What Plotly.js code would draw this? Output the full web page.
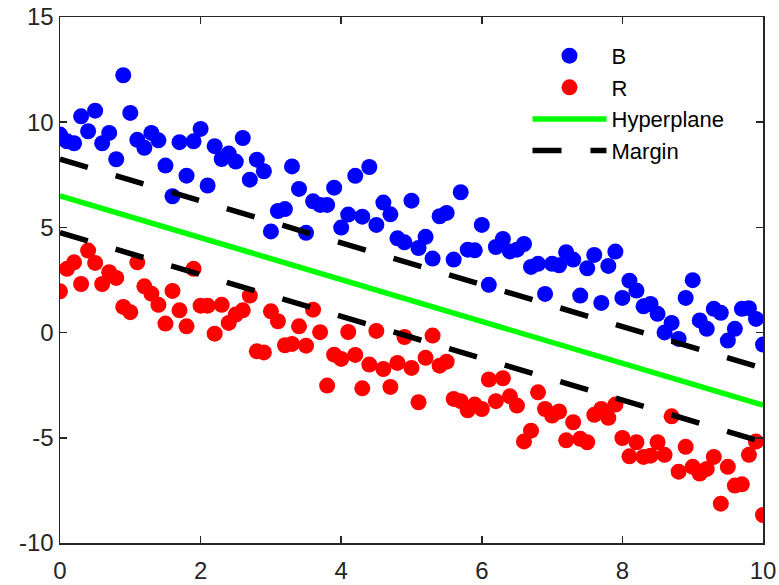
<!DOCTYPE html>
<html>
<head>
<meta charset="utf-8">
<script src="https://cdn.plot.ly/plotly-3.0.1.min.js"></script>
<style>html,body{margin:0;padding:0;background:#fff;}#chart{width:779px;height:585px;}</style>
</head>
<body>
<div id="chart"></div>
<script>
// x positions shared by both classes
var xVals = [];
for (var i = 0; i <= 100; i++) xVals.push(+(i / 10).toFixed(1));

var blueY = [9.41,9.09,9.0,10.28,9.57,10.55,9.0,9.49,8.24,12.23,
             10.44,9.16,8.78,9.49,9.14,7.94,6.48,9.05,7.46,9.09,
             9.68,6.99,8.86,8.25,8.51,8.13,9.25,7.27,8.22,7.67,
             4.81,5.78,5.87,7.9,6.83,4.74,6.24,6.07,6.07,6.89,
             4.99,5.61,7.45,5.51,7.87,5.12,6.18,5.62,4.48,4.29,
             6.27,4.02,4.55,3.52,5.53,5.69,3.47,6.67,3.94,3.91,
             5.12,2.27,4.07,4.45,3.86,3.94,4.21,3.12,3.27,1.84,
             3.27,3.20,3.82,3.47,1.76,3.06,3.69,1.41,3.17,3.85,
             1.65,2.47,2.0,1.25,1.36,0.89,0.01,0.46,-0.30,1.65,
             2.49,0.58,0.18,1.13,0.94,-0.38,0.18,1.13,1.16,0.65,
             -0.57];

var redY = [1.96,3.03,3.34,2.31,3.90,3.31,2.31,2.87,2.60,1.22,
            0.97,3.34,2.20,1.85,1.32,0.43,1.98,1.06,0.30,3.03,
            1.28,1.28,-0.05,1.32,0.46,0.86,1.06,1.76,-0.89,-0.94,
            1.01,0.54,-0.60,-0.54,0.30,-0.62,1.09,0.02,-2.52,-1.05,
            -1.25,0.03,-1.06,-2.65,-1.52,0.08,-1.73,-2.58,-1.44,-0.21,
            -1.68,-3.31,-1.20,-0.14,-1.57,-1.38,-3.15,-3.26,-3.69,-3.42,
            -3.63,-2.23,-3.26,-2.17,-3.03,-3.47,-5.17,-4.66,-2.84,-3.63,
            -3.94,-3.75,-5.12,-4.26,-5.05,-5.21,-3.91,-3.63,-4.05,-3.42,
            -5.01,-5.88,-5.21,-5.91,-5.85,-5.21,-5.81,-3.98,-6.61,-5.43,
            -6.38,-6.70,-6.48,-5.91,-8.13,-6.38,-7.27,-7.21,-5.81,-5.18,
            -8.67];

var lineX = [0, 10];
var hyperY = [6.5, -3.45];
var marginUpY = [8.25, -1.7];
var marginLoY = [4.75, -5.2];

var xTicks = [0, 2, 4, 6, 8, 10];
var yTicks = [-10, -5, 0, 5, 10, 15];

var traces = [
  {x: xVals, y: blueY, name: 'B', type: 'scatter', mode: 'markers',
   marker: {color: '#0000ff', size: 16, line: {width: 0}}, cliponaxis: true},
  {x: xVals, y: redY, name: 'R', type: 'scatter', mode: 'markers',
   marker: {color: '#ff0000', size: 16, line: {width: 0}}, cliponaxis: true},
  {x: lineX, y: hyperY, name: 'Hyperplane', type: 'scatter', mode: 'lines',
   line: {color: '#00ff00', width: 5.5}},
  {x: lineX, y: marginUpY, name: 'Margin', type: 'scatter', mode: 'lines',
   line: {color: '#000000', width: 5.5, dash: '29px,29px'}, legendgroup: 'm'},
  {x: lineX, y: marginLoY, name: 'Margin', type: 'scatter', mode: 'lines',
   line: {color: '#000000', width: 5.5, dash: '29px,29px'}, legendgroup: 'm', showlegend: false}
];

var axisCommon = {
  showgrid: false, zeroline: false, showline: true, mirror: 'ticks',
  linecolor: '#262626', linewidth: 1.5, ticks: 'inside', ticklen: 7,
  tickwidth: 1.5, tickcolor: '#262626',
  tickfont: {family: 'Liberation Sans, Arial, sans-serif', size: 24, color: '#262626'}
};

var layout = {
  width: 779, height: 585,
  margin: {l: 60, r: 16, t: 17, b: 42},
  paper_bgcolor: '#ffffff', plot_bgcolor: '#ffffff',
  showlegend: true,
  legend: {x: 0.665, y: 0.966, xanchor: 'left', yanchor: 'top',
           bgcolor: 'rgba(255,255,255,0)', borderwidth: 0,
           itemwidth: 74, tracegroupgap: 0,
           font: {family: 'Liberation Sans, Arial, sans-serif', size: 22, color: '#000000'}},
  xaxis: Object.assign({}, axisCommon, {range: [0, 10], tickvals: xTicks, ticktext: xTicks.map(String), ticklabelstandoff: 6}),
  yaxis: Object.assign({}, axisCommon, {range: [-10, 15], tickvals: yTicks, ticktext: yTicks.map(String)})
};

Plotly.newPlot('chart', traces, layout, {displayModeBar: false, staticPlot: true});
</script>
</body>
</html>
